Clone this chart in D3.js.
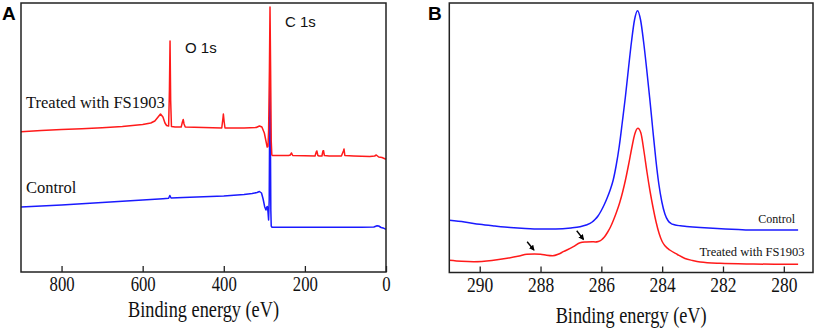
<!DOCTYPE html>
<html>
<head>
<meta charset="utf-8">
<script src="https://cdn.jsdelivr.net/npm/d3@7"></script>
<style>
  html, body { margin: 0; padding: 0; background: #fff; }
  svg { display: block; }
</style>
</head>
<body>
<svg id="chart" width="816" height="328"></svg>
<script>
// ---------- Panel A : survey spectra (binding energy eV, intensity a.u.) ----------
const surveyTreatedEV = [900,850,800,750,700,650,600,580,570,562,556,550,545,541,536,534,532.5,531,529,520,505,502,500,498,495,450,405,402,401,399,397,350,320,312,306,300,296,293,291,289.5,287.5,286,284.5,283,281.5,280,260,240,236,233,230,200,175,172,170.5,168,165,158,155.5,154,152,140,110,105,103.5,101.5,80,60,40,28,24,18,10,0];
const surveyTreatedI  = [139.3,140.5,141.4,142.3,143.2,144.5,146.5,148,150,154,157,154,148,145.5,145,181,230,171,144.5,144,144,149,151.5,147,144,143.5,143,153,157,149,143,143,143.5,145,144,138,130,124,124.5,140,200,264,200,130,116,115.5,115.5,115.5,116,118,115.5,115.2,115,119,120,115.5,115,115,120,120.3,115.5,115,115,120,122,115.5,115,114.7,114.5,115,116,114,113.5,111.7];

const surveyControlEV = [900,850,800,750,700,650,600,550,536,533,530,500,450,400,350,330,318,312,307,303,299,296,294,292.5,291,289.5,288,286.5,286,285,284,283,281,250,150,60,30,22,18,12,5,0];
const surveyControlI  = [64,65,66,67.3,68.5,69.7,71,72.3,72.7,75.5,73,73.5,74.3,75,76.5,77.5,78.5,79.5,78,72,64,61,64,64.5,59,51,71,171,191,131,61,45,43.7,43.7,43.7,43.7,44,45.3,45,43.5,42.7,41.7];

const surveyTicks = [800, 600, 400, 200, 0];

// ---------- Panel B : C 1s high-resolution spectra ----------
const c1sControlEV = [291.0,290.5,290.0,289.5,289.0,288.5,288.0,287.5,287.0,286.7,286.5,286.3,286.21,286.11,286.01,285.91,285.81,285.71,285.61,285.51,285.41,285.31,285.21,285.11,285.01,284.91,284.81,284.71,284.61,284.51,284.41,284.31,284.21,284.11,284.01,283.91,283.81,283.71,283.6,283.4,283.2,282.75,282.33,281.5,281.0,280.5,279.53];
const c1sControlI  = [51.7,50,47.7,46,44.5,43.5,43,43,44,45.3,47,50,52.5,56,61,67,74,82,92,107,126,150,175,203,230,252,261.3,252,230,203,174,143,113,88,70,58,51.5,48.5,47.2,46.2,45.6,44.5,43.7,42.5,42,42,42];

const c1sTreatedEV = [291.0,290.6,290.2,289.6,289.1,288.7,288.45,288.2,288.0,287.8,287.6,287.4,287.25,286.92,286.7,286.5,286.3,286.2,286.1,286.0,285.9,285.8,285.7,285.6,285.5,285.4,285.3,285.2,285.1,285.0,284.9,284.8,284.7,284.6,284.5,284.4,284.3,284.2,284.1,284.0,283.9,283.75,283.5,283.25,283.0,282.75,282.1,281.0,280.0,279.53];
const c1sTreatedI  = [11.7,10.7,10.3,11.5,13.7,16,17.7,18,17.8,16.7,16.2,18,20.3,25.3,29.3,30,30.3,30,30.5,32,35,39.5,45,52,60,69,80,93,108,124,138,143.7,139,121,100,81,64.5,50,38.5,30.5,26,22,17.5,13.5,11.5,10,8.7,8,7.7,7.7];

const c1sTicks = [290, 288, 286, 284, 282, 280];

// annotation arrows (eV, intensity) : start -> end
const arrowStartEV = [288.44, 286.81];
const arrowStartI  = [30.3, 41.3];
const arrowEndEV   = [288.22, 286.59];
const arrowEndI    = [22, 32.7];

const seriesNames = ["Treated with FS1903", "Control"];
const peakLabels = ["O 1s", "C 1s"];
const axisTitle = "Binding energy (eV)";

// ---------- drawing ----------
const svg = d3.select("#chart");
const serif = "'Liberation Serif', 'Times New Roman', serif";
const sans = "'Liberation Sans', Arial, sans-serif";
const RED = "#ff1a1a", BLUE = "#1a1aff", FRAME = "#222";
const STRETCH = 1.25;

function zip(a, b) { return a.map((v, i) => [v, b[i]]); }

function drawPanel(cfg) {
  const g = svg.append("g");
  const x = d3.scaleLinear().domain(cfg.xDomain).range([cfg.left, cfg.right]);
  const y = d3.scaleLinear().domain(cfg.yDomain).range([cfg.bottom, cfg.top]);

  const line = d3.line().x(d => x(d[0])).y(d => y(d[1])).curve(cfg.curve);

  cfg.series.forEach(s => {
    g.append("path").datum(zip(s.ev, s.i))
      .attr("d", line).attr("fill", "none")
      .attr("stroke", s.color).attr("stroke-width", 1.5)
      .attr("stroke-linejoin", "round");
  });

  // axis with inward ticks
  const axis = d3.axisBottom(x).tickValues(cfg.ticks).tickSizeInner(-6).tickSizeOuter(0).tickFormat(d3.format("d"));
  const ag = g.append("g").attr("transform", `translate(0,${cfg.bottom})`).call(axis);
  ag.select(".domain").remove();
  ag.selectAll(".tick line").attr("stroke", FRAME).attr("stroke-width", 1.3);
  ag.selectAll(".tick text")
    .attr("y", null).attr("dy", null)
    .attr("transform", `translate(0,${cfg.tickBase}) scale(1,${STRETCH})`)
    .style("font-family", serif).style("font-size", cfg.tickFont + "px").attr("fill", "#111");

  // frame
  g.append("rect").attr("x", cfg.left).attr("y", cfg.top)
    .attr("width", cfg.right - cfg.left).attr("height", cfg.bottom - cfg.top)
    .attr("fill", "none").attr("stroke", FRAME).attr("stroke-width", 1.5);

  // axis title
  g.append("text").text(axisTitle)
    .attr("text-anchor", "middle")
    .attr("transform", `translate(${(cfg.left + cfg.right) / 2},${cfg.titleBase}) scale(1,${STRETCH})`)
    .style("font-family", serif).style("font-size", "18.3px").attr("fill", "#111");

  // panel letter
  g.append("text").text(cfg.letter)
    .attr("x", cfg.letterX).attr("y", 20)
    .style("font-family", sans).style("font-weight", "bold").style("font-size", "19px").attr("fill", "#000");

  return { g, x, y };
}

// Panel A
const A = drawPanel({
  left: 21, right: 386, top: 3, bottom: 272,
  xDomain: [900, 0], yDomain: [-1, 268],
  curve: d3.curveLinear, ticks: surveyTicks,
  tickBase: 19, tickFont: 16.7, titleBase: 316.5,
  letter: "A", letterX: 2,
  series: [
    { ev: surveyControlEV, i: surveyControlI, color: BLUE },
    { ev: surveyTreatedEV, i: surveyTreatedI, color: RED }
  ]
});
A.g.append("text").text(seriesNames[0]).attr("x", 26).attr("y", 108.3)
  .style("font-family", serif).style("font-size", "16.5px").attr("fill", "#111");
A.g.append("text").text(seriesNames[1]).attr("x", 26).attr("y", 192.7)
  .style("font-family", serif).style("font-size", "16.5px").attr("fill", "#111");
A.g.append("text").text(peakLabels[0]).attr("x", 185).attr("y", 53.3)
  .style("font-family", sans).style("font-size", "15px").attr("fill", "#111");
A.g.append("text").text(peakLabels[1]).attr("x", 285).attr("y", 26.7)
  .style("font-family", sans).style("font-size", "15px").attr("fill", "#111");

// Panel B
const B = drawPanel({
  left: 449.3, right: 813, top: 3, bottom: 272.5,
  xDomain: [291, 279.04], yDomain: [-0.5, 269],
  curve: d3.curveMonotoneX, ticks: c1sTicks,
  tickBase: 19.6, tickFont: 17.5, titleBase: 323,
  letter: "B", letterX: 428,
  series: [
    { ev: c1sControlEV, i: c1sControlI, color: BLUE },
    { ev: c1sTreatedEV, i: c1sTreatedI, color: RED }
  ]
});
B.g.append("text").text(seriesNames[1]).attr("text-anchor", "end")
  .attr("x", 795).attr("y", 223.3)
  .style("font-family", serif).style("font-size", "12px").attr("fill", "#111");
B.g.append("text").text(seriesNames[0]).attr("text-anchor", "end")
  .attr("x", 804.5).attr("y", 255.7)
  .style("font-family", serif).style("font-size", "12.5px").attr("fill", "#111");

// arrow marker
svg.append("defs").append("marker")
  .attr("id", "ah").attr("viewBox", "0 0 10 10").attr("refX", 8).attr("refY", 5)
  .attr("markerWidth", 4).attr("markerHeight", 4).attr("orient", "auto")
  .append("path").attr("d", "M0,0 L10,5 L0,10 Z").attr("fill", "#000");

B.g.selectAll("line.arrow").data(arrowStartEV.map((d, i) => i)).enter()
  .append("line").attr("class", "arrow")
  .attr("x1", i => B.x(arrowStartEV[i])).attr("y1", i => B.y(arrowStartI[i]))
  .attr("x2", i => B.x(arrowEndEV[i])).attr("y2", i => B.y(arrowEndI[i]))
  .attr("stroke", "#000").attr("stroke-width", 1.4)
  .attr("marker-end", "url(#ah)");
</script>
</body>
</html>
